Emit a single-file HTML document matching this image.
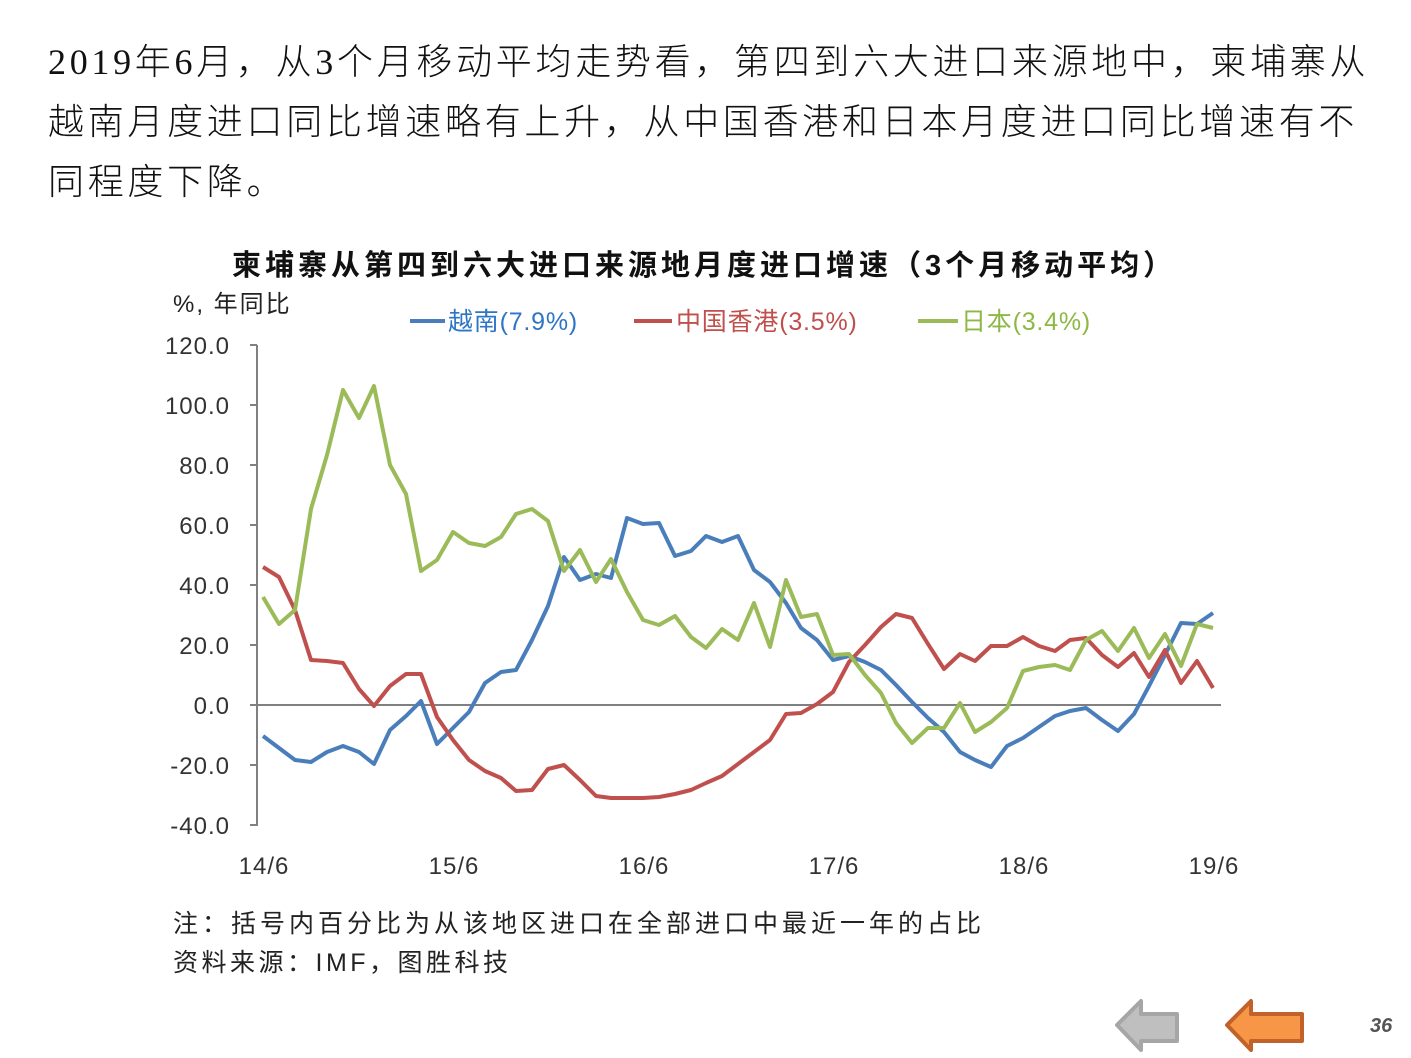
<!DOCTYPE html>
<html><head><meta charset="utf-8"><style>
body{margin:0;background:#fff;width:1411px;height:1058px;overflow:hidden;position:relative;font-family:"Liberation Sans","Noto Sans CJK SC",sans-serif}
.t{position:absolute;white-space:nowrap}
</style></head><body>
<div class="t" style="left:48px;top:32px;font-size:36px;line-height:60px;color:#111;letter-spacing:3.7px;font-family:'Liberation Serif','Noto Sans CJK SC',serif;font-weight:300;">2019年6月，从3个月移动平均走势看，第四到六大进口来源地中，柬埔寨从<br>越南月度进口同比增速略有上升，从中国香港和日本月度进口同比增速有不<br>同程度下降。</div>
<div class="t" style="left:232px;top:242px;font-size:29px;font-weight:bold;color:#111;letter-spacing:4px;">柬埔寨从第四到六大进口来源地月度进口增速（3个月移动平均）</div>
<svg width="1411" height="1058" style="position:absolute;left:0;top:0" font-family="Liberation Sans, Noto Sans CJK SC, sans-serif">
<text x="173" y="312" font-size="24" fill="#222" letter-spacing="2">%, 年同比</text>
<line x1="410" y1="321" x2="445" y2="321" stroke="#4a7ebb" stroke-width="4"/><text x="448" y="330" font-size="25" fill="#2e75c4" letter-spacing="0.8">越南(7.9%)</text>
<line x1="634" y1="321" x2="672" y2="321" stroke="#c0504d" stroke-width="4"/><text x="676" y="330" font-size="25" fill="#c0504d" letter-spacing="0.8">中国香港(3.5%)</text>
<line x1="918" y1="321" x2="958" y2="321" stroke="#9bbb59" stroke-width="4"/><text x="961" y="330" font-size="25" fill="#8db845" letter-spacing="0.8">日本(3.4%)</text>
<g font-size="24" fill="#333" text-anchor="end" letter-spacing="1">
<text x="230" y="354">120.0</text><text x="230" y="414">100.0</text><text x="230" y="474">80.0</text><text x="230" y="534">60.0</text><text x="230" y="594">40.0</text><text x="230" y="654">20.0</text><text x="230" y="714">0.0</text><text x="230" y="774">-20.0</text><text x="230" y="834">-40.0</text></g>
<g stroke="#808080" stroke-width="2"><line x1="257" y1="345" x2="257" y2="826"/>
<line x1="250" y1="345" x2="257" y2="345"/><line x1="250" y1="405" x2="257" y2="405"/><line x1="250" y1="465" x2="257" y2="465"/><line x1="250" y1="525" x2="257" y2="525"/><line x1="250" y1="585" x2="257" y2="585"/><line x1="250" y1="645" x2="257" y2="645"/><line x1="250" y1="705" x2="257" y2="705"/><line x1="250" y1="765" x2="257" y2="765"/><line x1="250" y1="825" x2="257" y2="825"/>
<line x1="257" y1="705" x2="1221" y2="705"/></g>
<g font-size="24" fill="#333" text-anchor="middle" letter-spacing="1"><text x="264" y="874">14/6</text><text x="454" y="874">15/6</text><text x="644" y="874">16/6</text><text x="834" y="874">17/6</text><text x="1024" y="874">18/6</text><text x="1214" y="874">19/6</text></g>
<g fill="none" stroke-width="4" stroke-linejoin="round">
<polyline stroke="#4a7ebb" points="263,736 279,748 295,760 311,762 327,752 343,746 359,752 374,764 390,730 406,716 421,701 437,744 453,728 469,712 485,683 501,672 516,670 532,640 548,606 564,557 580,580 596,574 611,578 627,518 643,524 659,523 675,556 691,551 706,536 722,542 738,536 754,570 770,582 786,603 801,628 817,640 833,660 849,656 865,662 881,670 896,685 912,702 928,718 944,732 960,752 975,760 991,767 1007,746 1023,738 1039,727 1055,716 1070,711 1086,708 1102,720 1118,731 1134,714 1149,686 1165,655 1181,623 1197,624 1213,613"/>
<polyline stroke="#c0504d" points="263,567 279,577 295,610 311,660 327,661 343,663 359,689 374,706 390,686 406,674 421,674 437,717 453,740 469,760 485,771 501,778 516,791 532,790 548,769 564,765 580,780 596,796 611,798 627,798 643,798 659,797 675,794 691,790 706,783 722,776 738,764 754,752 770,740 786,714 801,713 817,704 833,692 849,662 865,645 881,627 896,614 912,618 928,644 944,669 960,654 975,661 991,646 1007,646 1023,637 1039,646 1055,651 1070,640 1086,638 1102,655 1118,667 1134,653 1149,677 1165,650 1181,683 1197,661 1213,688"/>
<polyline stroke="#9bbb59" points="263,597 279,624 295,610 311,509 327,455 343,390 359,418 374,386 390,465 406,494 421,571 437,560 453,532 469,543 485,546 501,537 516,514 532,509 548,521 564,571 580,550 596,582 611,559 627,592 643,620 659,625 675,616 691,637 706,648 722,629 738,640 754,603 770,647 786,580 801,617 817,614 833,655 849,654 865,675 881,693 896,723 912,743 928,728 944,728 960,703 975,732 991,722 1007,708 1023,671 1039,667 1055,665 1070,670 1086,640 1102,631 1118,651 1134,628 1149,658 1165,634 1181,666 1197,624 1213,628"/>
</g>
<text x="173" y="932" font-size="25" fill="#222" letter-spacing="4">注：括号内百分比为从该地区进口在全部进口中最近一年的占比</text>
<text x="173" y="971" font-size="25" fill="#222" letter-spacing="3.5">资料来源：IMF，图胜科技</text>
<polygon points="1117,1025 1141,1001 1141,1014 1177,1014 1177,1041 1141,1041 1141,1050" fill="#bfbfbf" stroke="#a6a6a6" stroke-width="4" stroke-linejoin="round"/>
<polygon points="1227,1025 1251,1001 1251,1014 1302,1014 1302,1041 1251,1041 1251,1050" fill="#f79646" stroke="#c0622a" stroke-width="4" stroke-linejoin="round"/>
<text x="1370" y="1032" font-size="20" font-style="italic" font-weight="bold" fill="#555">36</text>
</svg>
</body></html>
